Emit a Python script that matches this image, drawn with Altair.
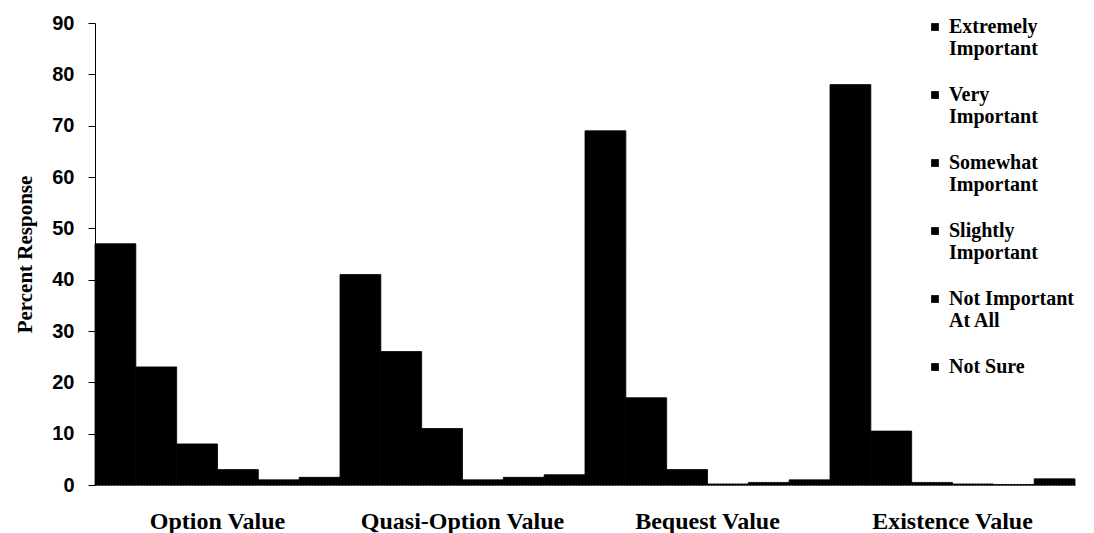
import altair as alt
import pandas as pd

groups = ["Option Value", "Quasi-Option Value", "Bequest Value", "Existence Value"]
responses = ["Extremely Important", "Very Important", "Somewhat Important",
             "Slightly Important", "Not Important At All", "Not Sure"]
legend_lines = [["Extremely", "Important"], ["Very", "Important"], ["Somewhat", "Important"],
                ["Slightly", "Important"], ["Not Important", "At All"], ["Not Sure"]]

option_vals = [47, 23, 8, 3, 1, 1.5]
quasi_vals = [41, 26, 11, 1, 1.5, 2]
bequest_vals = [69, 17, 3, 0.2, 0.5, 1]
existence_vals = [78, 10.5, 0.5, 0.2, 0.1, 1.2]

rows = []
for g, vals in zip(groups, [option_vals, quasi_vals, bequest_vals, existence_vals]):
    for r, v in zip(responses, vals):
        rows.append({"group": g, "response": r, "value": v})
df = pd.DataFrame(rows)

label_expr = ""
for r, lines in zip(responses, legend_lines):
    arr = "[" + ",".join("'" + s + "'" for s in lines) + "]"
    label_expr += f"datum.label == '{r}' ? {arr} : "
label_expr += "datum.label"

serif = "Liberation Serif, Times New Roman, serif"
sans = "Liberation Sans, Arial, sans-serif"

chart = alt.Chart(df).mark_bar(stroke="black", strokeWidth=0.8).encode(
    x=alt.X("group:N", sort=groups, title=None,
            scale=alt.Scale(paddingInner=0, paddingOuter=0),
            axis=alt.Axis(labelAngle=0, ticks=False, labelFont=serif, labelFontWeight="bold",
                          labelFontSize=24, labelColor="black", labelPadding=24,
                          labelLimit=400,
                          domainColor="#444", domainDash=[2, 1], domainWidth=1)),
    xOffset=alt.XOffset("response:N", sort=responses,
                        scale=alt.Scale(paddingInner=0, paddingOuter=0)),
    y=alt.Y("value:Q", title="Percent Response",
            scale=alt.Scale(domain=[0, 90], nice=False),
            axis=alt.Axis(values=list(range(0, 91, 10)), grid=False, tickSize=7,
                          tickColor="black", domainColor="black", labelFont=sans,
                          labelFontWeight="bold", labelFontSize=20, labelColor="black",
                          labelPadding=14, titleFont=serif, titleFontWeight="bold",
                          titleFontSize=21, titleColor="black", titlePadding=16)),
    color=alt.Color("response:N", sort=responses,
                    scale=alt.Scale(domain=responses, range=["#000000"] * 6),
                    legend=alt.Legend(title=None, orient="none", legendX=830, legendY=-6,
                                      symbolType="square", symbolSize=60,
                                      symbolStrokeWidth=0, labelFont=serif,
                                      labelFontWeight="bold", labelFontSize=20,
                                      labelColor="black", labelLimit=300,
                                      labelExpr=label_expr, rowPadding=26,
                                      labelOffset=4)),
).properties(
    width=980, height=462,
    autosize=alt.AutoSizeParams(type="none"),
    padding={"left": 95, "top": 23, "right": 19, "bottom": 48},
).configure_view(stroke=None)

chart.save("out.html", embed_options={"renderer": "svg", "actions": False})
